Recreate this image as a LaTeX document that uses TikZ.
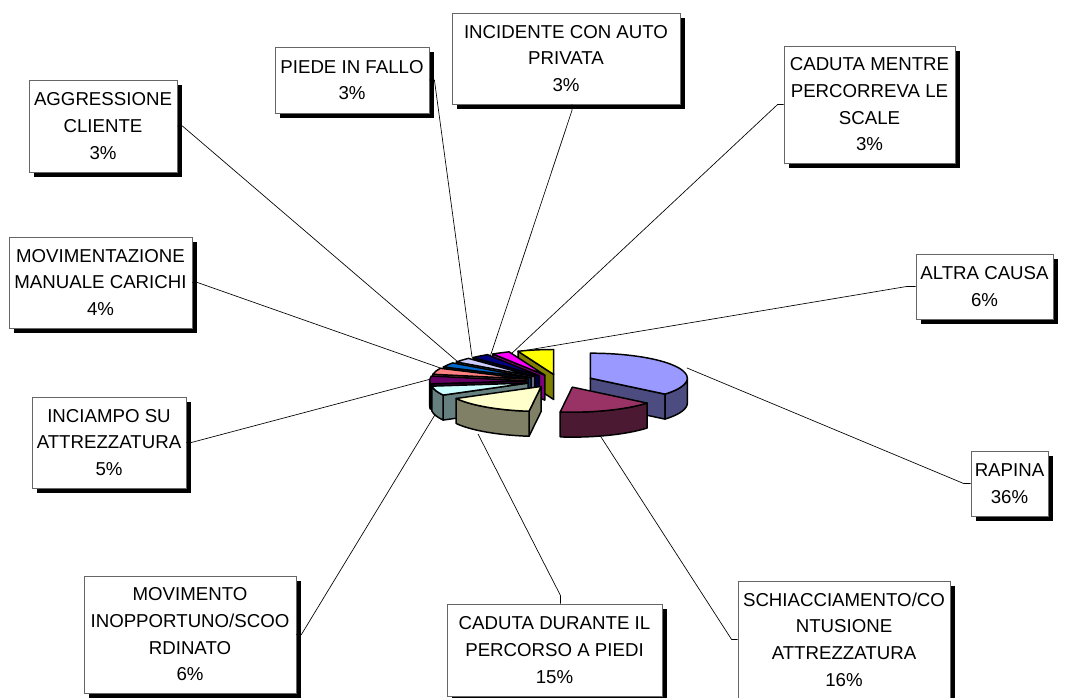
\documentclass[tikz,border=0pt]{standalone}
\usepackage{fontspec}
\setmainfont{Liberation Sans}
\usetikzlibrary{calc}
\usetikzlibrary{shadows}
\definecolor{rapinac}{HTML}{9999FF}
\definecolor{schiacc}{HTML}{993366}
\definecolor{piedic}{HTML}{FFFFCC}
\definecolor{movc}{HTML}{CCFFFF}
\definecolor{inciamc}{HTML}{660066}
\definecolor{caricc}{HTML}{FF8080}
\definecolor{aggrc}{HTML}{0066CC}
\definecolor{piedec}{HTML}{CCCCFF}
\definecolor{incidc}{HTML}{000080}
\definecolor{scalec}{HTML}{FF00FF}
\definecolor{altrac}{HTML}{FFFF00}
\tikzset{
	pie slice/.pic={
		\tikzset{/slice/.cd, #1}
		\pgfmathsetmacro\slicemid{(\slicefrom+\sliceupto)/2}
		\pgfmathsetmacro\slicehi{min(\slicefrom,0)}
		\pgfmathsetmacro\slicelo{max(\sliceupto,-180)}
		\pgfmathsetmacro\slicecfrom{cos(\slicefrom)}
		\pgfmathsetmacro\slicecupto{cos(\sliceupto)}
		\begin{scope}[shift={({\sliceex*cos(\slicemid)},{\sliceey*sin(\slicemid)})}, draw=black, line width=1.1pt, line join=round]
			% cut faces
			\ifdim\slicecfrom pt<-0.01pt
			\filldraw[fill=\sliceface!50!black] (0,0) -- ({\slicerx*cos(\slicefrom)},{\slicery*sin(\slicefrom)}) -- ++(0,-\slicedepth) -- (0,-\slicedepth) -- cycle;
			\fi
			\ifdim\slicecupto pt>0.01pt
			\filldraw[fill=\sliceface!50!black] (0,0) -- ({\slicerx*cos(\sliceupto)},{\slicery*sin(\sliceupto)}) -- ++(0,-\slicedepth) -- (0,-\slicedepth) -- cycle;
			\fi
			% front rim
			\ifdim\slicehi pt>\slicelo pt
			\filldraw[fill=\sliceface!50!black] ({\slicerx*cos(\slicehi)},{\slicery*sin(\slicehi)}) arc[start angle=\slicehi, end angle=\slicelo, x radius=\slicerx, y radius=\slicery] -- ++(0,-\slicedepth) arc[start angle=\slicelo, end angle=\slicehi, x radius=\slicerx, y radius=\slicery] -- cycle;
			\fi
			\filldraw[fill=\sliceface] (0,0) -- ({\slicerx*cos(\slicefrom)},{\slicery*sin(\slicefrom)}) arc[start angle=\slicefrom, end angle=\sliceupto, x radius=\slicerx, y radius=\slicery] -- cycle;
		\end{scope}
	},
	/slice/.search also={/tikz},
	/slice/.cd,
	from/.store in=\slicefrom,
	upto/.store in=\sliceupto,
	face/.store in=\sliceface,
	rx/.store in=\slicerx,
	ry/.store in=\slicery,
	depth/.store in=\slicedepth,
	explode x/.store in=\sliceex,
	explode y/.store in=\sliceey,
	from=90,
	upto=0,
	face=white,
	rx=97,
	ry=25,
	depth=25,
	explode x=33.5,
	explode y=6.6,
}
\tikzset{
	label box/.style={draw=black!60, line width=0.6pt, fill=white, align=center, inner sep=0pt,
		font=\fontsize{14}{20}\selectfont,
		drop shadow={shadow xshift=3.5pt, shadow yshift=-3.5pt, fill=black, opacity=1}},
	leader/.style={draw=black, line width=0.5pt},
}

\begin{document}
\begin{tikzpicture}[x=0.75pt, y=0.75pt]
	\useasboundingbox (0,0) rectangle (1068,698);
	\coordinate (pie) at (560,317);
	% labels
	\node[label box, minimum width=111pt, minimum height=69pt] (aggressione) at (103,572) {AGGRESSIONE\\CLIENTE\\3\%};
	\node[label box, minimum width=115.5pt, minimum height=49.5pt] (piede) at (352,618) {PIEDE IN FALLO\\3\%};
	\node[label box, minimum width=171pt, minimum height=68.25pt] (incidente) at (566,639.5) {INCIDENTE CON AUTO\\PRIVATA\\3\%};
	\node[label box, minimum width=128.25pt, minimum height=87.75pt] (scale) at (869.5,593.5) {CADUTA MENTRE\\PERCORREVA LE\\SCALE\\3\%};
	\node[label box, minimum width=102.75pt, minimum height=48.75pt] (altra) at (984.5,411.5) {ALTRA CAUSA\\6\%};
	\node[label box, minimum width=137.25pt, minimum height=68.25pt] (carichi) at (100.5,415.5) {MOVIMENTAZIONE\\MANUALE CARICHI\\4\%};
	\node[label box, minimum width=115.5pt, minimum height=68.25pt] (inciampo) at (109,255.5) {INCIAMPO SU\\ATTREZZATURA\\5\%};
	\node[label box, minimum width=159pt, minimum height=87.75pt] (movimento) at (190,63.5) {MOVIMENTO\\INOPPORTUNO/SCOO\\RDINATO\\6\%};
	\node[label box, minimum width=161.25pt, minimum height=69pt] (piedi) at (554.5,48) {CADUTA DURANTE IL\\PERCORSO A PIEDI\\15\%};
	\node[label box, minimum width=159pt, minimum height=87.75pt] (schiacciamento) at (844,58.5) {SCHIACCIAMENTO/CO\\NTUSIONE\\ATTREZZATURA\\16\%};
	\node[label box, minimum width=57.75pt, minimum height=48.75pt] (rapina) at (1009.5,214.5) {RAPINA\\36\%};
	% leader lines
	\coordinate (aggressione-end) at (458,336);
	\coordinate (carichi-end) at (446,328);
	\coordinate (piede-end) at (472,341);
	\coordinate (incidente-end) at (490,341);
	\coordinate (scale-end) at (510,343);
	\coordinate (altra-end) at (522,347);
	\coordinate (rapina-end) at (687,330);
	\coordinate (schiacciamento-end) at (601,261);
	\coordinate (piedi-end) at (478,264);
	\coordinate (movimento-end) at (436,285);
	\coordinate (inciampo-end) at (431,319);
	\draw[leader] (aggressione.east) -- ++(5,0) -- (aggressione-end);
	\draw[leader] (carichi.east) -- ++(5,0) -- (carichi-end);
	\draw[leader] (inciampo.east) -- ++(5,0) -- (inciampo-end);
	\draw[leader] (movimento.east) -- ++(5,0) -- (movimento-end);
	\draw[leader] (piede.east) -- ++(5,0) -- (piede-end);
	\draw[leader] ([xshift=4.5pt]incidente.south) -- ++(0,-6) -- (incidente-end);
	\draw[leader] (scale.west) -- ++(-6,0) -- (scale-end);
	\draw[leader] (altra.west) -- ++(-9,0) -- (altra-end);
	\draw[leader] (rapina.west) -- ++(-7,0) -- (rapina-end);
	\draw[leader] (schiacciamento.west) -- ++(-6,0) -- (schiacciamento-end);
	\draw[leader] ([xshift=4.5pt]piedi.north) -- ++(0,8) -- (piedi-end);
	% slices, back to front
	\foreach \sfrom/\supto/\sface in {-248.4/-270/altrac, -237.6/-248.4/scalec, -226.8/-237.6/incidc,
		-216/-226.8/piedec, -205.2/-216/aggrc, 90/-39.6/rapinac, -190.8/-205.2/caricc,
		-172.8/-190.8/inciamc, -151.2/-172.8/movc, -97.2/-151.2/piedic, -39.6/-97.2/schiacc}
	\pic at (pie) {pie slice={from=\sfrom, upto=\supto, face=\sface}};
\end{tikzpicture}
\end{document}
